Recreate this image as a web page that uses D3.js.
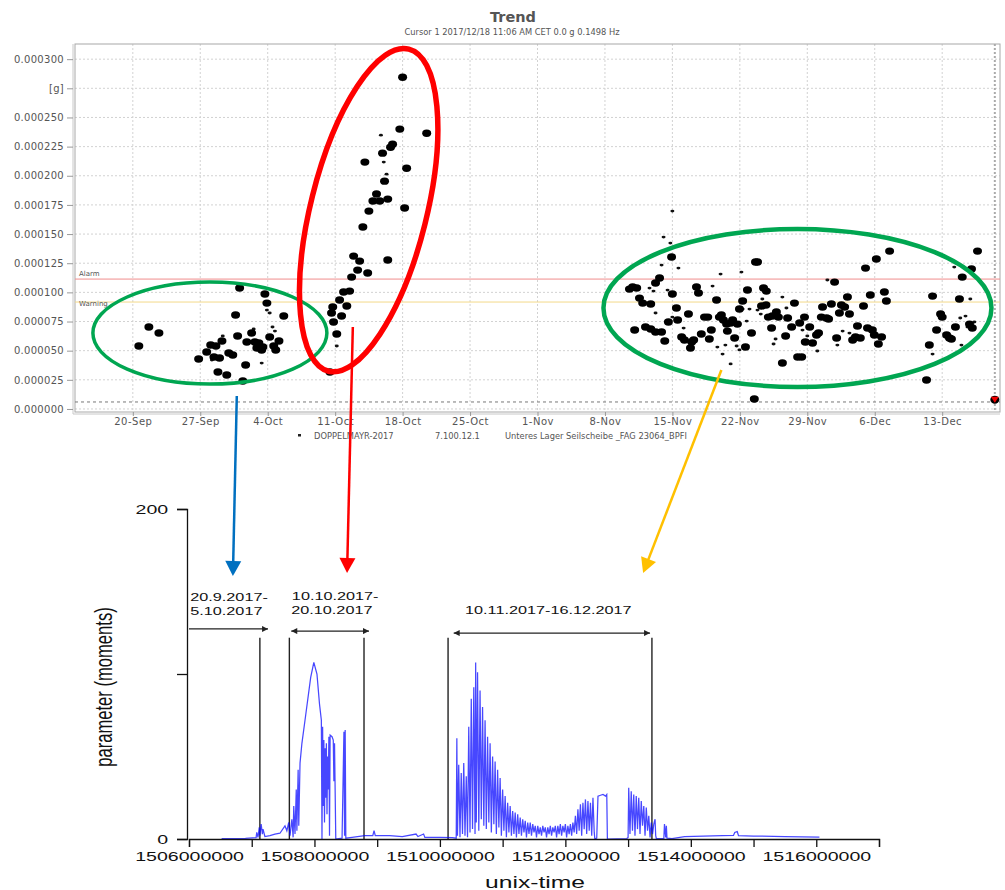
<!DOCTYPE html>
<html>
<head>
<meta charset="utf-8">
<script src="https://cdn.jsdelivr.net/npm/d3@7"></script>
<style>
body { margin: 0; background: #fff; }
svg { display: block; }
.trend text { font-family: "DejaVu Sans", Verdana, sans-serif; fill: #555; }
.signal text { font-family: "Liberation Sans", Arial, sans-serif; fill: #111; }
</style>
</head>
<body>
<svg id="chart" width="1005" height="890"></svg>
<script>
// ---------- top panel: Trend export ----------
const trendRange = ["2017-09-14 00:00", "2017-12-19 00:00"];
const trendValueRange = [-0.0000026, 0.000313];
const trendTickLabels = ["20-Sep", "27-Sep", "4-Oct", "11-Oct", "18-Oct", "25-Oct", "1-Nov",
  "8-Nov", "15-Nov", "22-Nov", "29-Nov", "6-Dec", "13-Dec"];
const trendYTicks = [0, 0.000025, 0.00005, 0.000075, 0.0001, 0.000125, 0.00015,
  0.000175, 0.0002, 0.000225, 0.00025, 0.000275, 0.0003];
const unitTick = 0.000275;   // the "[g]" label sits on this gridline
const limitNames = ["Alarm", "Warning"];
const limitValues = [0.0001114, 0.0000917];
const floorValue = 0.000006;
const cursorTime = "2017-12-18 11:06";
const cursorValue = 0.8e-5;

// big dots (date, g)
const bigPoints = [
  ["2017-09-20 15:00",5.40e-5],["2017-09-21 16:00",7.03e-5],["2017-09-22 17:00",6.51e-5],
  ["2017-09-26 20:00",4.29e-5],["2017-09-27 16:00",4.88e-5],["2017-09-28 02:00",5.48e-5],
  ["2017-09-28 15:00",5.40e-5],["2017-09-28 10:00",4.46e-5],["2017-09-29 00:00",4.37e-5],
  ["2017-09-29 06:00",5.83e-5],["2017-09-28 20:00",3.17e-5],["2017-09-29 18:00",2.91e-5],
  ["2017-09-29 23:00",4.80e-5],["2017-09-30 09:00",4.63e-5],["2017-09-30 16:00",8.06e-5],
  ["2017-09-30 21:00",6.26e-5],["2017-10-01 02:00",10.37e-5],["2017-10-01 10:00",2.40e-5],
  ["2017-10-01 17:00",3.77e-5],["2017-10-01 20:00",5.74e-5],["2017-10-02 08:00",6.51e-5],
  ["2017-10-02 16:00",5.74e-5],["2017-10-02 21:00",5.23e-5],["2017-10-03 02:00",5.66e-5],
  ["2017-10-03 09:00",5.06e-5],["2017-10-03 12:00",5.31e-5],["2017-10-03 17:00",9.86e-5],
  ["2017-10-03 22:00",9.08e-5],["2017-10-04 05:00",6.17e-5],["2017-10-04 15:00",5.40e-5],
  ["2017-10-04 20:00",5.06e-5],["2017-10-05 04:00",5.83e-5],["2017-10-05 16:00",7.97e-5],
  ["2017-10-10 11:00",3.17e-5],["2017-10-11 04:00",6.43e-5],["2017-10-10 20:00",7.46e-5],
  ["2017-10-10 15:00",8.23e-5],["2017-10-10 18:00",8.74e-5],["2017-10-11 11:00",9.34e-5],
  ["2017-10-11 16:00",7.97e-5],["2017-10-12 05:00",8.83e-5],["2017-10-11 21:00",10.03e-5],
  ["2017-10-12 12:00",10.11e-5],["2017-10-12 17:00",11.31e-5],["2017-10-13 08:00",11.91e-5],
  ["2017-10-14 09:00",11.66e-5],["2017-10-13 13:00",12.68e-5],["2017-10-16 11:00",12.77e-5],
  ["2017-10-12 22:00",13.11e-5],["2017-10-13 21:00",15.60e-5],["2017-10-14 12:00",16.97e-5],
  ["2017-10-14 22:00",17.83e-5],["2017-10-15 07:00",18.43e-5],["2017-10-15 15:00",17.83e-5],
  ["2017-10-16 11:00",18.00e-5],["2017-10-16 03:00",19.54e-5],["2017-10-18 05:00",17.23e-5],
  ["2017-10-18 10:00",20.65e-5],["2017-10-14 02:00",21.17e-5],["2017-10-15 22:00",21.94e-5],
  ["2017-10-16 18:00",22.45e-5],["2017-10-16 23:00",22.71e-5],["2017-10-17 17:00",24.00e-5],
  ["2017-10-20 12:00",23.65e-5],["2017-10-18 00:00",28.45e-5],
  ["2017-11-14 22:00",13.03e-5],["2017-11-13 16:00",11.23e-5],["2017-11-13 06:00",10.80e-5],
  ["2017-11-10 13:00",10.28e-5],["2017-11-10 21:00",10.46e-5],["2017-11-11 07:00",10.37e-5],
  ["2017-11-11 14:00",9.51e-5],["2017-11-11 22:00",9.08e-5],["2017-11-12 18:00",9.00e-5],
  ["2017-11-15 00:00",9.86e-5],["2017-11-15 10:00",8.66e-5],["2017-11-11 02:00",6.77e-5],
  ["2017-11-12 05:00",7.03e-5],["2017-11-12 18:00",6.86e-5],["2017-11-13 06:00",6.60e-5],
  ["2017-11-13 21:00",6.60e-5],["2017-11-14 05:00",5.83e-5],["2017-11-14 14:00",7.46e-5],
  ["2017-11-15 13:00",7.63e-5],["2017-11-15 23:00",6.17e-5],["2017-11-16 06:00",5.91e-5],
  ["2017-11-16 16:00",8.14e-5],["2017-11-17 00:00",5.74e-5],["2017-11-16 21:00",5.23e-5],
  ["2017-11-17 05:00",5.91e-5],["2017-11-17 12:00",10.46e-5],["2017-11-17 17:00",9.94e-5],
  ["2017-11-18 00:00",6.43e-5],["2017-11-18 08:00",7.88e-5],["2017-11-18 16:00",7.88e-5],
  ["2017-11-18 20:00",6.00e-5],["2017-11-19 01:00",6.77e-5],["2017-11-19 14:00",9.34e-5],
  ["2017-11-19 21:00",7.88e-5],["2017-11-20 02:00",8.06e-5],["2017-11-20 07:00",7.63e-5],
  ["2017-11-20 15:00",7.28e-5],["2017-11-20 17:00",6.68e-5],["2017-11-21 01:00",7.37e-5],
  ["2017-11-21 06:00",7.63e-5],["2017-11-21 11:00",6.08e-5],["2017-11-21 18:00",7.28e-5],
  ["2017-11-21 23:00",8.57e-5],["2017-11-22 07:00",9.26e-5],["2017-11-22 14:00",5.31e-5],
  ["2017-11-22 19:00",10.20e-5],["2017-11-23 05:00",6.51e-5],["2017-11-23 15:00",12.60e-5],
  ["2017-11-23 20:00",12.60e-5],["2017-11-24 11:00",10.37e-5],["2017-11-24 18:00",10.11e-5],
  ["2017-11-24 06:00",8.83e-5],["2017-11-24 17:00",8.91e-5],["2017-11-24 23:00",7.88e-5],
  ["2017-11-25 09:00",7.97e-5],["2017-11-25 07:00",6.94e-5],["2017-11-25 19:00",8.31e-5],
  ["2017-11-26 00:00",7.88e-5],["2017-11-26 10:00",3.94e-5],["2017-11-26 18:00",6.26e-5],
  ["2017-11-26 23:00",7.80e-5],["2017-11-27 09:00",7.03e-5],["2017-11-27 16:00",9.08e-5],
  ["2017-11-28 00:00",4.46e-5],["2017-11-28 10:00",4.46e-5],["2017-11-28 05:00",7.37e-5],
  ["2017-11-28 17:00",7.88e-5],["2017-11-28 19:00",5.74e-5],["2017-11-29 06:00",7.03e-5],
  ["2017-11-29 13:00",5.66e-5],["2017-11-29 23:00",6.34e-5],["2017-11-30 04:00",6.51e-5],
  ["2017-11-30 11:00",7.88e-5],["2017-11-30 14:00",8.74e-5],["2017-12-01 00:00",7.80e-5],
  ["2017-12-01 05:00",7.71e-5],["2017-12-01 12:00",9.00e-5],["2017-12-01 20:00",10.88e-5],
  ["2017-12-02 01:00",6.08e-5],["2017-12-02 08:00",8.23e-5],["2017-12-02 13:00",8.91e-5],
  ["2017-12-02 21:00",8.74e-5],["2017-12-03 04:00",9.60e-5],["2017-12-03 09:00",8.14e-5],
  ["2017-12-03 17:00",5.91e-5],["2017-12-04 00:00",6.17e-5],["2017-12-04 05:00",7.11e-5],
  ["2017-12-04 12:00",6.08e-5],["2017-12-04 20:00",8.83e-5],["2017-12-05 01:00",12.08e-5],
  ["2017-12-05 06:00",6.94e-5],["2017-12-05 13:00",9.77e-5],["2017-12-05 18:00",6.77e-5],
  ["2017-12-05 23:00",6.34e-5],["2017-12-06 04:00",12.86e-5],["2017-12-06 09:00",5.57e-5],
  ["2017-12-06 17:00",6.17e-5],["2017-12-07 00:00",10.03e-5],["2017-12-07 05:00",9.26e-5],
  ["2017-12-07 13:00",13.54e-5],["2017-12-11 09:00",2.49e-5],["2017-12-11 16:00",5.48e-5],
  ["2017-12-12 00:00",9.68e-5],["2017-12-12 10:00",6.77e-5],["2017-12-12 20:00",8.14e-5],
  ["2017-12-13 00:00",7.88e-5],["2017-12-13 11:00",6.34e-5],["2017-12-13 18:00",6.08e-5],
  ["2017-12-13 23:00",6.00e-5],["2017-12-14 09:00",7.03e-5],["2017-12-14 19:00",9.43e-5],
  ["2017-12-15 02:00",11.31e-5],["2017-12-16 01:00",12.00e-5],["2017-12-16 16:00",13.54e-5],
  ["2017-12-15 20:00",7.28e-5],["2017-12-16 03:00",6.94e-5],["2017-11-23 12:00",0.86e-5]
];

// small dots (date, g)
const smallPoints = [
  ["2017-09-29 08:00",6.26e-5],["2017-10-03 22:00",8.48e-5],["2017-10-04 05:00",8.23e-5],
  ["2017-10-04 12:00",7.03e-5],["2017-10-04 18:00",6.68e-5],["2017-10-03 09:00",3.94e-5],
  ["2017-09-28 05:00",4.20e-5],["2017-10-02 13:00",6.86e-5],
  ["2017-10-11 04:00",5.40e-5],["2017-10-15 18:00",23.48e-5],["2017-10-16 01:00",21.17e-5],
  ["2017-10-16 08:00",20.14e-5],
  ["2017-11-15 00:00",16.97e-5],["2017-11-14 02:00",14.74e-5],["2017-11-14 19:00",14.23e-5],
  ["2017-11-13 21:00",12.34e-5],["2017-11-15 15:00",12.08e-5],["2017-11-20 00:00",11.57e-5],
  ["2017-11-22 04:00",11.74e-5],["2017-11-19 04:00",10.54e-5],["2017-11-12 15:00",10.37e-5],
  ["2017-11-13 01:00",10.11e-5],["2017-11-14 12:00",10.20e-5],["2017-11-11 09:00",9.51e-5],
  ["2017-11-13 06:00",8.23e-5],["2017-11-15 00:00",7.88e-5],["2017-11-26 10:00",9.60e-5],
  ["2017-11-24 08:00",9.43e-5],["2017-11-22 07:00",8.57e-5],["2017-11-23 00:00",8.57e-5],
  ["2017-11-24 04:00",8.14e-5],["2017-11-23 20:00",8.48e-5],["2017-11-22 17:00",7.54e-5],
  ["2017-11-16 04:00",6.94e-5],["2017-11-26 20:00",8.66e-5],["2017-11-25 17:00",6.00e-5],
  ["2017-11-25 12:00",5.57e-5],["2017-11-19 16:00",5.31e-5],["2017-11-20 12:00",5.48e-5],
  ["2017-11-21 16:00",5.40e-5],["2017-11-21 23:00",5.06e-5],["2017-11-20 05:00",4.71e-5],
  ["2017-11-21 01:00",3.86e-5],["2017-11-28 12:00",6.77e-5],["2017-11-29 00:00",6.26e-5],
  ["2017-11-30 01:00",4.97e-5],["2017-12-02 03:00",5.48e-5],["2017-12-02 16:00",6.68e-5],
  ["2017-12-03 09:00",6.51e-5],["2017-12-01 02:00",11.06e-5],["2017-12-14 06:00",12.17e-5],
  ["2017-12-15 22:00",9.43e-5],["2017-12-14 21:00",7.80e-5],["2017-12-15 10:00",7.97e-5],
  ["2017-12-16 08:00",7.46e-5],["2017-12-12 00:00",4.71e-5],["2017-12-15 00:00",5.48e-5],
  ["2017-12-15 15:00",7.03e-5]
];

const trendTitle = "Trend";
const trendSubtitle = "Cursor 1  2017/12/18 11:06 AM CET  0.0 g  0.1498 Hz";
const legendItems = ["DOPPELMAYR-2017", "7.100.12.1", "Unteres Lager Seilscheibe _FAG 23064_BPFI"];

// ---------- bottom panel: parameter vs unix time ----------
const signalXRange = [1506000000, 1517000000];
const signalYRange = [0, 200];
const signalYTicks = [0, 100, 200];
// [unix time / 1e6, moments]
const signalPoints = [
  [1506.52,0.3],[1506.90,0.4],[1507.07,0.8],[1507.08,4],[1507.10,1],[1507.12,7],[1507.13,2],
  [1507.15,9],[1507.17,3],[1507.18,6],[1507.21,1.5],[1507.29,2],[1507.37,3],[1507.45,3.5],
  [1507.53,8],[1507.56,5],[1507.59,10],[1507.61,2],[1507.64,12],[1507.66,1],[1507.67,20],
  [1507.69,3],[1507.71,30],[1507.72,5],[1507.74,42],[1507.75,8],[1507.77,46],[1507.80,58],
  [1507.86,75],[1507.94,98],[1507.99,107],[1508.04,100],[1508.08,82],[1508.11,72],[1508.12,0],
  [1508.13,68],[1508.14,20],[1508.15,60],[1508.16,10],[1508.17,55],[1508.18,25],[1508.19,58],
  [1508.20,15],[1508.21,50],[1508.22,30],[1508.23,62],[1508.24,2],[1508.25,63],[1508.28,62],
  [1508.30,60],[1508.31,35],[1508.32,58],[1508.34,0],[1508.44,0.5],[1508.47,65],[1508.48,2],
  [1508.49,66],[1508.50,0.5],[1508.60,1],[1508.80,2],[1508.93,2],[1508.95,5],[1508.97,2],
  [1509.20,2],[1509.40,1.5],[1509.62,3],[1509.65,1.5],[1509.74,3],[1509.76,1],[1510.00,1],
  [1510.20,0.8],[1510.26,0.5],
  [1510.27,61],[1510.28,2],[1510.30,45],[1510.32,1],[1510.34,40],[1510.36,3],[1510.38,46],
  [1510.40,2],[1510.42,38],[1510.44,1],[1510.46,68],[1510.48,4],[1510.50,85],[1510.52,6],
  [1510.54,92],[1510.56,3],[1510.57,107],[1510.58,10],[1510.60,101],[1510.62,5],[1510.64,90],
  [1510.66,12],[1510.68,80],[1510.70,8],[1510.72,72],[1510.74,6],[1510.76,62],[1510.78,10],
  [1510.80,58],[1510.82,4],[1510.84,50],[1510.86,9],[1510.88,47],[1510.90,3],[1510.92,42],
  [1510.94,7],[1510.96,37],[1510.98,2],[1511.00,30],[1511.02,5],[1511.04,26],[1511.06,1],
  [1511.08,22],[1511.10,4],[1511.12,20],[1511.14,2],[1511.16,17],[1511.18,3],[1511.20,16],
  [1511.22,1],[1511.24,15],[1511.26,3],[1511.28,13],[1511.30,2],[1511.32,12],[1511.34,4],
  [1511.36,11],[1511.38,1],[1511.40,10],[1511.42,3],[1511.44,10],[1511.46,2],[1511.48,9],
  [1511.50,4],[1511.52,8],[1511.54,1],[1511.56,8],[1511.58,3],[1511.60,7],[1511.62,2],
  [1511.64,8],[1511.66,4],[1511.68,7],[1511.70,1],[1511.72,7],[1511.74,3],[1511.76,8],
  [1511.78,2],[1511.80,7],[1511.82,4],[1511.84,8],[1511.86,1],[1511.88,8],[1511.90,3],
  [1511.92,9],[1511.94,2],[1511.96,8],[1511.98,4],[1512.00,9],[1512.02,1],[1512.04,8],
  [1512.06,3],[1512.08,9],[1512.10,2],[1512.12,10],[1512.14,4],[1512.16,14],[1512.18,3],
  [1512.20,18],[1512.22,5],[1512.24,21],[1512.26,2],[1512.28,22],[1512.30,6],[1512.32,24],
  [1512.34,3],[1512.36,23],[1512.38,5],[1512.40,22],[1512.42,2],[1512.44,25],[1512.46,4],
  [1512.47,0],[1512.50,0.5],[1512.52,26],[1512.56,26.5],[1512.60,27],[1512.64,26],[1512.66,27],
  [1512.67,0],[1512.98,0.3],
  [1513.00,1],[1513.01,31],[1513.03,3],[1513.05,29],[1513.07,5],[1513.09,27],[1513.11,2],
  [1513.13,26],[1513.15,6],[1513.17,25],[1513.19,3],[1513.21,23],[1513.23,8],[1513.25,20],
  [1513.27,2],[1513.29,19],[1513.31,5],[1513.33,14],[1513.35,1],[1513.37,10],[1513.39,3],
  [1513.41,9],[1513.43,12],[1513.44,2],[1513.45,0.3],[1513.57,0.3],[1513.58,9],[1513.60,1],
  [1513.61,8],[1513.62,0.5],[1513.70,0.3],[1513.90,1.5],[1514.50,2],[1514.68,2.2],[1514.70,4],
  [1514.74,4.5],[1514.76,2],[1515.00,1.8],[1515.50,1.5],[1516.05,1.2]
];

// analysis windows (unix time of the vertical bounds)
const windowBounds = [1507130000, 1507600000, 1508790000, 1510130000, 1513380000];
const windowTop = 122;
// arrows: [from, to, level, double headed]
const windowArrows = [
  [1506000000, 1507260000, 127.3, false],
  [1507630000, 1508870000, 126.0, true],
  [1510220000, 1513350000, 124.8, true]
];
// labels: [text, unix time of left edge, level]
const windowLabels = [
  ["20.9.2017-", 1506020000, 144],
  ["5.10.2017", 1506020000, 136],
  ["10.10.2017-", 1507640000, 144.6],
  ["20.10.2017", 1507630000, 136.6],
  ["10.11.2017-16.12.2017", 1510400000, 136.4]
];
const signalXLabel = "unix-time";
const signalYLabel = "parameter (moments)";

// callouts: trend-panel centre (date, g), radii in px, rotation
const calloutEllipses = [
  ["2017-09-28 00:00", 6.51e-5, 117, 51, 0],
  ["2017-10-14 11:30", 17.05e-5, 58, 166, 14],
  ["2017-11-27 23:30", 8.66e-5, 194, 79, 0]
];
// arrows from trend panel (date, g) to signal panel (unix/1e6, moments)
const calloutArrows = [
  ["2017-09-30 19:00", 1.11e-5, 1506.70, 159.4],
  ["2017-10-12 20:00", 7.03e-5, 1508.52, 161.2],
  ["2017-11-20 02:00", 3.34e-5, 1513.24, 161.2]
];

// ================= drawing =================
const svg = d3.select("#chart");
svg.append("rect").attr("width", 1005).attr("height", 890).attr("fill", "#fff");

const parseTime = d3.utcParse("%Y-%m-%d %H:%M");
const parseTick = d3.utcParse("%d-%b-%Y");

const xTrend = d3.scaleUtc()
    .domain(trendRange.map(parseTime))
    .range([75, 1000]);
const yTrend = d3.scaleLinear()
    .domain(trendValueRange)
    .range([412, 44]);

const trend = svg.append("g").attr("class", "trend");
const tickDates = trendTickLabels.map(s => parseTick(s + "-2017"));

// grid
trend.append("g").selectAll("line")
    .data(tickDates)
    .enter().append("line")
    .attr("x1", d => xTrend(d)).attr("x2", d => xTrend(d))
    .attr("y1", 44).attr("y2", 412)
    .attr("stroke", "#d2d2d2").attr("stroke-dasharray", "2,2");
trend.append("g").selectAll("line")
    .data(trendYTicks)
    .enter().append("line")
    .attr("x1", 75).attr("x2", 1000)
    .attr("y1", d => yTrend(d)).attr("y2", d => yTrend(d))
    .attr("stroke", "#d2d2d2").attr("stroke-dasharray", "2,2");

// frame
trend.append("rect")
    .attr("x", 75).attr("y", 44).attr("width", 925).attr("height", 368)
    .attr("fill", "none").attr("stroke", "#a8a8a8");
trend.append("line").attr("x1", 73).attr("x2", 73).attr("y1", 44).attr("y2", 414)
    .attr("stroke", "#c8c8c8");
trend.append("line").attr("x1", 73).attr("x2", 1000).attr("y1", 414).attr("y2", 414)
    .attr("stroke", "#c8c8c8");

// axes
const yAxisTrend = d3.axisLeft(yTrend)
    .tickValues(trendYTicks)
    .tickSize(6)
    .tickFormat(d => d === unitTick ? "[g]" : d3.format(".6f")(d));
trend.append("g")
    .attr("transform", "translate(73,0)")
    .call(yAxisTrend)
    .call(g => g.select(".domain").remove())
    .call(g => g.selectAll("line").attr("stroke", "#999"))
    .call(g => g.selectAll("text").attr("x", -9).attr("font-size", 10)
        .attr("letter-spacing", 0.3).attr("fill", "#555")
        .style("font-family", '"DejaVu Sans", Verdana, sans-serif'));

const xAxisTrend = d3.axisBottom(xTrend)
    .tickValues(tickDates)
    .tickSize(4)
    .tickFormat((d, i) => trendTickLabels[i]);
trend.append("g")
    .attr("transform", "translate(0,412)")
    .call(xAxisTrend)
    .call(g => g.select(".domain").remove())
    .call(g => g.selectAll("line").attr("stroke", "#999"))
    .call(g => g.selectAll("text").attr("y", 6).attr("font-size", 10)
        .attr("letter-spacing", 0.5).attr("fill", "#555")
        .style("font-family", '"DejaVu Sans", Verdana, sans-serif'));

// limit lines
const limitColors = ["#f08c8c", "#f3d98a"];
trend.append("g").selectAll("line")
    .data(limitValues)
    .enter().append("line")
    .attr("x1", 75).attr("x2", 1000)
    .attr("y1", d => yTrend(d)).attr("y2", d => yTrend(d))
    .attr("stroke", (d, i) => limitColors[i]).attr("stroke-width", 1);
trend.append("g").selectAll("text")
    .data(limitNames)
    .enter().append("text")
    .attr("x", 79)
    .attr("y", (d, i) => yTrend(limitValues[i]) + (i === 0 ? -3 : 4))
    .attr("font-size", 7).attr("fill", "#777")
    .text(d => d);

trend.append("line")
    .attr("x1", 75).attr("x2", 1000)
    .attr("y1", yTrend(floorValue)).attr("y2", yTrend(floorValue))
    .attr("stroke", "#777").attr("stroke-dasharray", "3,3");

// cursor
const cx = xTrend(parseTime(cursorTime));
trend.append("line")
    .attr("x1", cx).attr("x2", cx).attr("y1", 44).attr("y2", 412)
    .attr("stroke", "#aaa").attr("stroke-width", 2).attr("stroke-dasharray", "2,2");

// dots
trend.append("g").selectAll("ellipse")
    .data(smallPoints)
    .enter().append("ellipse")
    .attr("cx", d => xTrend(parseTime(d[0])))
    .attr("cy", d => yTrend(d[1]))
    .attr("rx", 2).attr("ry", 1.4)
    .attr("fill", "#111");
trend.append("g").selectAll("ellipse")
    .data(bigPoints)
    .enter().append("ellipse")
    .attr("cx", d => xTrend(parseTime(d[0])))
    .attr("cy", d => yTrend(d[1]))
    .attr("rx", 4.5).attr("ry", 3.7)
    .attr("fill", "#000");

// cursor marker
trend.append("ellipse")
    .attr("cx", cx).attr("cy", yTrend(cursorValue))
    .attr("rx", 4.5).attr("ry", 4).attr("fill", "#000");
trend.append("path")
    .attr("transform", `translate(${cx},${yTrend(cursorValue)})`)
    .attr("d", "M-4,-3L4,-3L0,3Z").attr("fill", "#e00");

// titles
trend.append("text")
    .attr("x", 513).attr("y", 22).attr("text-anchor", "middle")
    .attr("font-size", 14.5).attr("font-weight", "bold").attr("fill", "#111")
    .text(trendTitle);
trend.append("text")
    .attr("x", 512).attr("y", 35).attr("text-anchor", "middle")
    .attr("font-size", 8.3).attr("fill", "#444")
    .text(trendSubtitle);

// legend row
trend.append("rect").attr("x", 298).attr("y", 434).attr("width", 3).attr("height", 2.5).attr("fill", "#222");
const legendX = [314, 435, 505];
trend.append("g").selectAll("text")
    .data(legendItems)
    .enter().append("text")
    .attr("x", (d, i) => legendX[i]).attr("y", 439)
    .attr("font-size", 8.3).attr("fill", "#555")
    .text(d => d);

// ---------- bottom panel ----------
const xSig = d3.scaleLinear().domain(signalXRange).range([189, 879]);
const ySig = d3.scaleLinear().domain(signalYRange).range([839, 509]);
const sig = svg.append("g").attr("class", "signal");
const stretch = 1.45;

// window bounds
sig.append("g").selectAll("line")
    .data(windowBounds)
    .enter().append("line")
    .attr("x1", d => xSig(d)).attr("x2", d => xSig(d))
    .attr("y1", ySig(windowTop)).attr("y2", ySig(0))
    .attr("stroke", "#222").attr("stroke-width", 1.4);

// signal line
const line = d3.line()
    .x(d => xSig(d[0] * 1e6))
    .y(d => ySig(d[1]));
sig.append("path")
    .datum(signalPoints)
    .attr("d", line)
    .attr("fill", "none")
    .attr("stroke", "#0000ff")
    .attr("stroke-opacity", 0.72)
    .attr("stroke-width", 1.25)
    .attr("stroke-linejoin", "miter");

// axes
const xAxisSig = d3.axisBottom(xSig)
    .tickValues(d3.range(signalXRange[0], signalXRange[1] + 1, 1000000))
    .tickSize(8)
    .tickFormat(d => ((d / 1000000) % 2 === 0) ? d3.format("d")(d) : "");
sig.append("g")
    .attr("transform", "translate(0,839)")
    .call(xAxisSig)
    .call(g => g.select(".domain").attr("stroke", "#111").attr("stroke-width", 1.3))
    .call(g => g.selectAll("line").attr("stroke", "#111").attr("stroke-width", 1.3))
    .call(g => g.selectAll("text").attr("y", 12).attr("font-size", 13.5)
        .attr("fill", "#111").attr("transform", `scale(${stretch},1)`)
        .style("font-family", '"Liberation Sans", Arial, sans-serif'));

const yAxisSig = d3.axisLeft(ySig)
    .tickValues(signalYTicks)
    .tickSize(10)
    .tickFormat(d => d === 100 ? "" : d);
sig.append("g")
    .attr("transform", "translate(187,0)")
    .call(yAxisSig)
    .call(g => g.select(".domain").attr("stroke", "#111").attr("stroke-width", 1.3))
    .call(g => g.selectAll("line").attr("stroke", "#111").attr("stroke-width", 1.3))
    .call(g => g.selectAll("text").attr("x", -13).attr("font-size", 13.5)
        .attr("fill", "#111").attr("transform", `scale(${stretch},1)`)
        .style("font-family", '"Liberation Sans", Arial, sans-serif'));

sig.append("text")
    .attr("transform", `translate(535,888) scale(${stretch},1)`)
    .attr("text-anchor", "middle").attr("font-size", 17)
    .text(signalXLabel);
sig.append("text")
    .attr("transform", `translate(112,687) scale(${stretch},1) rotate(-90)`)
    .attr("text-anchor", "middle").attr("font-size", 16.6)
    .text(signalYLabel);

// window arrows
const defs = svg.append("defs");
defs.append("marker")
    .attr("id", "head")
    .attr("viewBox", "0 0 10 10")
    .attr("refX", 10).attr("refY", 5)
    .attr("markerUnits", "userSpaceOnUse")
    .attr("markerWidth", 10).attr("markerHeight", 6)
    .attr("orient", "auto-start-reverse")
    .append("path").attr("d", "M0,0L10,5L0,10Z").attr("fill", "#222");

sig.append("g").selectAll("line")
    .data(windowArrows)
    .enter().append("line")
    .attr("x1", d => xSig(d[0])).attr("x2", d => xSig(d[1]))
    .attr("y1", d => ySig(d[2])).attr("y2", d => ySig(d[2]))
    .attr("stroke", "#222").attr("stroke-width", 1.3)
    .attr("marker-end", "url(#head)")
    .attr("marker-start", d => d[3] ? "url(#head)" : null);

sig.append("g").selectAll("text")
    .data(windowLabels)
    .enter().append("text")
    .attr("transform", d => `translate(${xSig(d[1])},${ySig(d[2])}) scale(${stretch},1)`)
    .attr("font-size", 11.2).attr("fill", "#222")
    .text(d => d[0]);

// ---------- callouts ----------
const callColors = ["#00a651", "#ff0000", "#00a651"];
const callWidths = [3.5, 5.5, 4.5];
svg.append("g").selectAll("ellipse")
    .data(calloutEllipses)
    .enter().append("ellipse")
    .attr("transform", d => `translate(${xTrend(parseTime(d[0]))},${yTrend(d[1])}) rotate(${d[4]})`)
    .attr("rx", d => d[2]).attr("ry", d => d[3])
    .attr("fill", "none")
    .attr("stroke", (d, i) => callColors[i])
    .attr("stroke-width", (d, i) => callWidths[i]);

const arrowColors = ["#0070c0", "#ff0000", "#ffc000"];
calloutArrows.forEach((d, i) => {
  const x1 = xTrend(parseTime(d[0])), y1 = yTrend(d[1]);
  const x2 = xSig(d[2] * 1e6), y2 = ySig(d[3]);
  const len = Math.hypot(x2 - x1, y2 - y1);
  const ux = (x2 - x1) / len, uy = (y2 - y1) / len;
  const hl = 15, hw = 8;
  const bx = x2 - ux * hl, by = y2 - uy * hl;
  const g = svg.append("g");
  g.append("line")
      .attr("x1", x1).attr("y1", y1).attr("x2", bx + ux * 2).attr("y2", by + uy * 2)
      .attr("stroke", arrowColors[i]).attr("stroke-width", 2.5);
  g.append("path")
      .attr("d", `M${x2},${y2}L${bx - uy * hw},${by + ux * hw}L${bx + uy * hw},${by - ux * hw}Z`)
      .attr("fill", arrowColors[i]);
});
</script>
</body>
</html>
